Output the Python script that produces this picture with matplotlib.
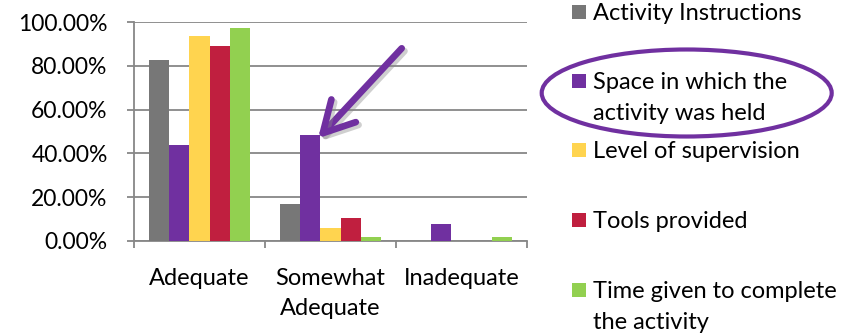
import matplotlib
matplotlib.use("Agg")
import matplotlib.pyplot as plt
import numpy as np
from matplotlib.patches import Ellipse, Rectangle
from matplotlib.ticker import PercentFormatter, FixedLocator
import matplotlib.patheffects as pe

# ---- data ----
categories = ["Adequate", "Somewhat\nAdequate", "Inadequate"]
series_names = ["Activity Instructions", "Space in which the\nactivity was held",
                "Level of supervision", "Tools provided",
                "Time given to complete\nthe activity"]
activity_instructions = [82.6, 16.8, 0.0]
space_held = [44.0, 48.4, 7.8]
level_supervision = [93.9, 5.8, 0.0]
tools_provided = [89.1, 10.4, 0.0]
time_given = [97.2, 1.6, 1.6]
series_values = [activity_instructions, space_held, level_supervision,
                 tools_provided, time_given]
y_ticks = [0, 20, 40, 60, 80, 100]

# ---- style ----
colors = ["#777777", "#7030A0", "#FFD44F", "#C01F3F", "#92D050"]
FONT = ["Lato", "DejaVu Sans"]
FS = 17
plt.rcParams['font.family'] = FONT

W, H = 860, 333
fig = plt.figure(figsize=(W / 100, H / 100), dpi=100)

def fx(px):
    return px / W

def fy(py):
    return 1 - py / H

ax = fig.add_axes([fx(134), fy(240.7), fx(527) - fx(134), fy(22.3) - fy(240.7)])

x = np.arange(len(categories))
bw = 0.155
for i, (vals, c) in enumerate(zip(series_values, colors)):
    ax.bar(x + (i - 2) * bw, vals, width=bw, color=c, zorder=3,
           edgecolor="none")

ax.set_xlim(-0.5, 2.5)
ax.set_ylim(0, 100)
ax.set_yticks(y_ticks)
ax.yaxis.set_major_formatter(PercentFormatter(decimals=2))
ax.grid(axis="y", color="#878787", linewidth=1.3, zorder=0)
ax.tick_params(axis="y", length=5, width=1.3, color="#878787",
               labelsize=16.5, pad=14)

ax.xaxis.set_major_locator(FixedLocator([-0.5, 0.5, 1.5, 2.5]))
ax.xaxis.set_minor_locator(FixedLocator(list(x)))
ax.set_xticklabels([], minor=False)
ax.set_xticklabels(categories, minor=True, fontsize=FS, linespacing=1.5)
ax.tick_params(axis="x", which="major", length=5, width=1.3, color="#878787")
ax.tick_params(axis="x", which="minor", length=0, pad=20)

for s in ["top", "right"]:
    ax.spines[s].set_visible(False)
for s in ["left", "bottom"]:
    ax.spines[s].set_color("#878787")
    ax.spines[s].set_linewidth(1.3)

# ---- legend (manual layout, Excel-like spacing) ----
row_y = [12, 81, 150, 220, 290]
for name, c, ry in zip(series_names, colors, row_y):
    fig.patches.append(Rectangle((fx(572), fy(ry + 7)), fx(14), fy(ry - 7) - fy(ry + 7),
                                 transform=fig.transFigure, facecolor=c,
                                 edgecolor="none"))
    fig.text(fx(593), fy(ry - 9), name, fontsize=FS, va="top", ha="left",
             linespacing=1.58)

# ---- ellipse around legend entry ----
fig.patches.append(Ellipse((fx(686.7), fy(93)), fx(290), fy(0) - fy(87),
                           transform=fig.transFigure, fill=False,
                           edgecolor="#7030A0", linewidth=3))

# ---- arrow pointing to the purple bar ----
ax.annotate("", xy=(1 - bw + 0.06, space_held[1] - 1.5), xycoords="data",
            xytext=(fx(401.7), fy(48.3)), textcoords="figure fraction",
            arrowprops=dict(arrowstyle="->,head_length=2.2,head_width=1.2",
                            mutation_scale=10, color="#7030A0", lw=4.8,
                            capstyle="round", joinstyle="round",
                            shrinkA=0, shrinkB=0,
                            path_effects=[pe.SimpleLineShadow(offset=(2, -2), shadow_color="#888888", alpha=0.4), pe.Normal()]),
            zorder=5)

fig.savefig("out.png", dpi=100)
